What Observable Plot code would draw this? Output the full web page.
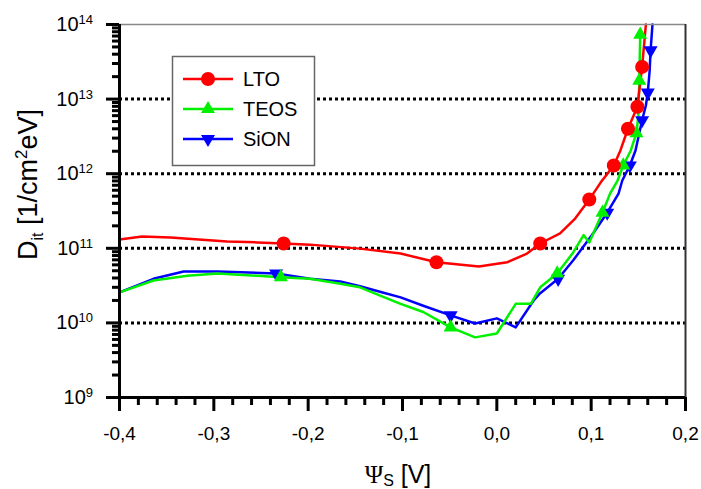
<!DOCTYPE html>
<html>
<head>
<meta charset="utf-8">
<script src="https://cdn.jsdelivr.net/npm/d3@7"></script>
<script src="https://cdn.jsdelivr.net/npm/@observablehq/plot@0.6"></script>
<style>
  html, body { margin: 0; padding: 0; background: #fff; }
  #chart svg { display: block; }
</style>
</head>
<body>
<div id="chart"></div>
<script>
// ---- Data ----
const seriesNames = ["LTO", "TEOS", "SiON"];
const seriesColors = ["#ff0000", "#00f000", "#0000ff"];

const ltoPsi = [-0.4, -0.376, -0.346, -0.286, -0.254, -0.226, -0.198, -0.145, -0.102, -0.064, -0.019, 0.011, 0.032, 0.046, 0.067, 0.083, 0.098, 0.110, 0.124, 0.131, 0.139, 0.149, 0.154, 0.158];
const ltoDit = [1.31e11, 1.44e11, 1.40e11, 1.23e11, 1.20e11, 1.16e11, 1.12e11, 9.9e10, 8.5e10, 6.5e10, 5.7e10, 6.5e10, 8.5e10, 1.16e11, 1.58e11, 2.5e11, 4.5e11, 7.6e11, 1.29e12, 2.05e12, 4.0e12, 7.9e12, 2.7e13, 1.0e14];
const ltoMarkPsi = [-0.226, -0.064, 0.046, 0.098, 0.124, 0.139, 0.149, 0.154];
const ltoMarkDit = [1.16e11, 6.5e10, 1.16e11, 4.5e11, 1.29e12, 4.0e12, 7.9e12, 2.7e13];

const teosPsi = [-0.4, -0.364, -0.328, -0.296, -0.229, -0.198, -0.169, -0.145, -0.123, -0.102, -0.078, -0.049, -0.023, 0.0, 0.020, 0.036, 0.046, 0.064, 0.081, 0.092, 0.098, 0.105, 0.112, 0.120, 0.128, 0.134, 0.142, 0.148, 0.150, 0.151, 0.152];
const teosDit = [2.56e10, 3.7e10, 4.3e10, 4.6e10, 4.1e10, 3.9e10, 3.4e10, 3.0e10, 2.3e10, 1.8e10, 1.4e10, 8.7e9, 6.4e9, 7.2e9, 1.8e10, 1.8e10, 3.0e10, 4.6e10, 8.8e10, 1.5e11, 1.2e11, 1.9e11, 3.0e11, 5.4e11, 8.1e11, 1.29e12, 2.05e12, 3.5e12, 6.0e12, 1.77e13, 7.3e13];
const teosMarkPsi = [-0.229, -0.049, 0.064, 0.112, 0.134, 0.148, 0.151, 0.152];
const teosMarkDit = [4.1e10, 8.7e9, 4.6e10, 3.0e11, 1.29e12, 3.5e12, 1.77e13, 7.3e13];

const sionPsi = [-0.4, -0.364, -0.332, -0.296, -0.234, -0.198, -0.166, -0.145, -0.123, -0.102, -0.078, -0.049, -0.023, 0.0, 0.020, 0.039, 0.046, 0.065, 0.081, 0.102, 0.117, 0.129, 0.133, 0.141, 0.147, 0.154, 0.158, 0.160, 0.162, 0.163, 0.165];
const sionDit = [2.56e10, 3.9e10, 4.9e10, 4.9e10, 4.6e10, 3.9e10, 3.6e10, 3.1e10, 2.6e10, 2.2e10, 1.7e10, 1.26e10, 9.8e9, 1.15e10, 8.7e9, 2.0e10, 2.5e10, 3.9e10, 6.9e10, 1.58e11, 3.0e11, 5.4e11, 8.1e11, 1.29e12, 2.05e12, 5.2e12, 8.2e12, 1.22e13, 2.4e13, 4.5e13, 1.0e14];
const sionMarkPsi = [-0.234, -0.049, 0.065, 0.117, 0.141, 0.154, 0.160, 0.163];
const sionMarkDit = [4.6e10, 1.26e10, 3.9e10, 3.0e11, 1.29e12, 5.2e12, 1.22e13, 4.5e13];

const xTicks = [-0.4, -0.3, -0.2, -0.1, 0.0, 0.1, 0.2];
const xTickLabels = ["-0,4", "-0,3", "-0,2", "-0,1", "0,0", "0,1", "0,2"];
const yTicks = [1e9, 1e10, 1e11, 1e12, 1e13, 1e14];
const yTickExponents = ["9", "10", "11", "12", "13", "14"];
const yGrid = [1e10, 1e11, 1e12, 1e13];

// ---- Build tables ----
const rows = (name, xs, ys) => xs.map((x, i) => ({series: name, psi: x, dit: ys[i]}));
const lineData = {
  LTO: rows("LTO", ltoPsi, ltoDit),
  TEOS: rows("TEOS", teosPsi, teosDit),
  SiON: rows("SiON", sionPsi, sionDit)
};
const markData = {
  LTO: rows("LTO", ltoMarkPsi, ltoMarkDit),
  TEOS: rows("TEOS", teosMarkPsi, teosMarkDit),
  SiON: rows("SiON", sionMarkPsi, sionMarkDit)
};
const colorOf = Object.fromEntries(seriesNames.map((n, i) => [n, seriesColors[i]]));

const triangleDown = {
  draw(context, size) {
    const y = Math.sqrt(size / (Math.sqrt(3) * 3));
    context.moveTo(0, y * 2);
    context.lineTo(-Math.sqrt(3) * y, -y);
    context.lineTo(Math.sqrt(3) * y, -y);
    context.closePath();
  }
};
const symbolOf = {LTO: "circle", TEOS: "triangle", SiON: triangleDown};
const radiusOf = {LTO: 7, TEOS: 5.2, SiON: 5.2};

// minor ticks
const xMinor = d3.range(-20, 11).map(k => k / 50).filter(v => !xTicks.some(t => Math.abs(t - v) < 1e-9));
const yMinor = [];
for (let e = 9; e < 14; e++) for (let m = 2; m <= 9; m++) yMinor.push(m * Math.pow(10, e));

const drawOrder = ["SiON", "TEOS", "LTO"];

const chart = Plot.plot({
  width: 701,
  height: 489,
  marginLeft: 119,
  marginRight: 16,
  marginTop: 24,
  marginBottom: 92,
  style: {fontFamily: "'Liberation Sans', Arial, sans-serif", fontSize: "19px", background: "white", color: "black", overflow: "visible"},
  x: {type: "linear", domain: [-0.4, 0.2], axis: null},
  y: {type: "log", domain: [1e9, 1e14], axis: null},
  marks: [
    Plot.ruleY(yGrid, {stroke: "black", strokeWidth: 3, strokeDasharray: "3,3"}),
    ...drawOrder.map(n =>
      Plot.line(lineData[n], {x: "psi", y: "dit", stroke: colorOf[n], strokeWidth: 2.5})
    ),
    ...drawOrder.map(n =>
      Plot.dot(markData[n], {x: "psi", y: "dit", fill: colorOf[n], stroke: "none", symbol: symbolOf[n], r: radiusOf[n]})
    ),
    Plot.ruleY([1e14], {stroke: "#888", strokeWidth: 1.5}),
    Plot.ruleX([0.2], {stroke: "#333", strokeWidth: 2}),
    Plot.ruleX([-0.4], {stroke: "black", strokeWidth: 3}),
    Plot.ruleY([1e9], {stroke: "black", strokeWidth: 3}),
    Plot.axisX(xTicks, {label: null, tickSize: 14, strokeWidth: 3, tickPadding: 15, fontSize: 19,
      tickFormat: d => xTickLabels[xTicks.indexOf(d)]}),
    Plot.axisX(xMinor, {label: null, tickSize: 8, strokeWidth: 3, tickFormat: () => ""}),
    Plot.axisY(yTicks, {label: null, tickSize: 13, strokeWidth: 3, tickFormat: () => ""}),
    Plot.axisY(yMinor, {label: null, tickSize: 7, strokeWidth: 3, tickFormat: () => ""})
  ]
});
document.getElementById("chart").appendChild(chart);

// ---- Extra text: tick labels with superscripts, titles, legend ----
const svg = d3.select(chart);
const ys = chart.scale("y");
const yPix = v => (typeof ys.apply === "function") ? ys.apply(v) : d3.scaleLog(ys.domain, ys.range)(v);

yTicks.forEach((v, i) => {
  const t = svg.append("text")
    .attr("x", 93).attr("y", yPix(v) + 7)
    .attr("text-anchor", "end").attr("fill", "black")
    .style("font-size", "20px");
  t.append("tspan").text("10");
  t.append("tspan").attr("dy", -7).style("font-size", "13px").text(yTickExponents[i]);
});

// y title
const yt = svg.append("text")
  .attr("transform", "translate(37,260) rotate(-90)")
  .attr("text-anchor", "start").attr("fill", "black")
  .style("font-size", "27px").style("white-space", "pre");
yt.append("tspan").text("D");
yt.append("tspan").attr("dy", 6).style("font-size", "16px").text("it");
yt.append("tspan").attr("dy", -6).text(" [1/cm");
yt.append("tspan").attr("dy", -10).style("font-size", "17px").text("2");
yt.append("tspan").attr("dy", 10).text("eV]");

// x title
const xt = svg.append("text")
  .attr("x", 398).attr("y", 483)
  .attr("text-anchor", "middle").attr("fill", "black")
  .style("font-size", "25px").style("white-space", "pre");
xt.append("tspan").style("font-family", "'Liberation Serif', 'DejaVu Serif', serif").text("Ψ");
xt.append("tspan").attr("dy", 3).style("font-size", "16px").text("S");
xt.append("tspan").attr("dy", -3).text(" [V]");

// legend
const lg = svg.append("g");
lg.append("rect").attr("x", 172.5).attr("y", 56.5).attr("width", 142).attr("height", 109)
  .attr("fill", "white").attr("stroke", "#666").attr("stroke-width", 1.5);
seriesNames.forEach((n, i) => {
  const cy = 79 + i * 30;
  lg.append("line").attr("x1", 183).attr("x2", 233).attr("y1", cy).attr("y2", cy)
    .attr("stroke", colorOf[n]).attr("stroke-width", 2.5);
  const r = radiusOf[n];
  const type = n === "LTO" ? d3.symbolCircle : n === "TEOS" ? d3.symbolTriangle : triangleDown;
  lg.append("path").attr("d", d3.symbol(type, Math.PI * r * r)())
    .attr("transform", `translate(208,${cy})`).attr("fill", colorOf[n]);
  lg.append("text").attr("x", 243).attr("y", cy + 7).attr("fill", "black")
    .attr("text-anchor", "start")
    .style("font-size", "20px").text(n);
});
</script>
</body>
</html>
